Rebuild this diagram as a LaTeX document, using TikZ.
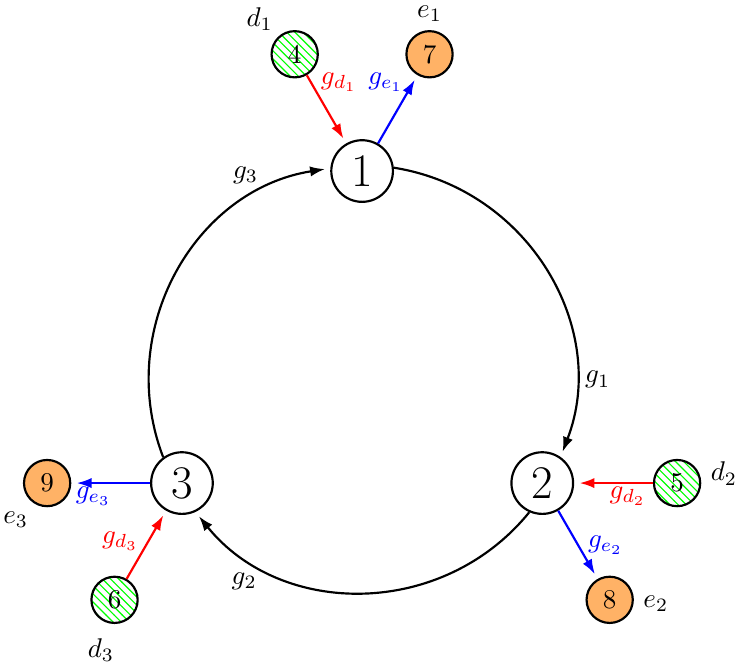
\documentclass[tikz,border=0pt]{standalone}
\usetikzlibrary{arrows.meta, calc, patterns}

\begin{document}
\begin{tikzpicture}[
	ring/.style={circle, draw, thick, fill=white, minimum size=0.8cm, inner sep=0pt, font=\LARGE},
	src/.style={circle, draw, thick, minimum size=0.6cm, inner sep=0pt, pattern=north west lines, pattern color=green},
	sink/.style={circle, draw, thick, minimum size=0.6cm, inner sep=0pt, fill=orange!60},
	conn/.style={thick, shorten >=2pt, -{Latex[length=5.5pt, width=3.8pt]}},
	loopconn/.style={conn, bend left=51, looseness=1.05},
]
	\useasboundingbox (-4.70,-3.69) rectangle (4.84,4.92);

	% ring nodes
	\node[ring] (c1) at (90:2.70) {1};
	\node[ring] (c2) at (-30:2.70) {2};
	\node[ring] (c3) at (210:2.70) {3};

	% demand / emission nodes round each ring node
	\node[src, label={[label distance=-2pt]131:$d_1$}] (d1) at ($(c1)+(120:1.75)$) {4};
	\node[sink, label={[label distance=-0.5pt]90:$e_1$}] (e1) at ($(c1)+(60:1.75)$) {7};
	\node[src, label={[yshift=3.5pt]right:$d_2$}] (d2) at ($(c2)+(0:1.75)$) {5};
	\node[sink, label={[yshift=-1.5pt]right:$e_2$}] (e2) at ($(c2)+(-60:1.75)$) {8};
	\node[sink, label={[xshift=2pt]232:$e_3$}] (e3) at ($(c3)+(180:1.75)$) {9};
	\node[src, label={[xshift=-5pt, label distance=2pt]below:$d_3$}] (d3) at ($(c3)+(240:1.75)$) {6};

	% ring arcs
	\draw[loopconn] (c1.6) to node[pos=0.8, anchor=180] {$g_1$} (c2.55);
	\draw[loopconn] (c2.-114) to node[pos=0.8, anchor=60] {$g_2$} (c3.-65);
	\draw[loopconn] (c3.126) to node[pos=0.8, anchor=300] {$g_3$} (c1.175);

	% spokes
	\draw[conn, red] (d1) -- node[pos=0.1, right] {$g_{d_1}$} (c1);
	\draw[conn, blue] (c1) -- node[pos=0.9, left] {$g_{e_1}$} (e1);
	\draw[conn, red] (d2) -- node[pos=0.32, below, inner sep=1pt] {$g_{d_2}$} (c2);
	\draw[conn, blue] (c2) -- node[midway, right] {$g_{e_2}$} (e2);
	\draw[conn, blue] (c3) -- node[pos=0.72, below, inner sep=1pt] {$g_{e_3}$} (e3);
	\draw[conn, red] (d3) -- node[pos=0.55, left] {$g_{d_3}$} (c3);

\end{tikzpicture}
\end{document}
